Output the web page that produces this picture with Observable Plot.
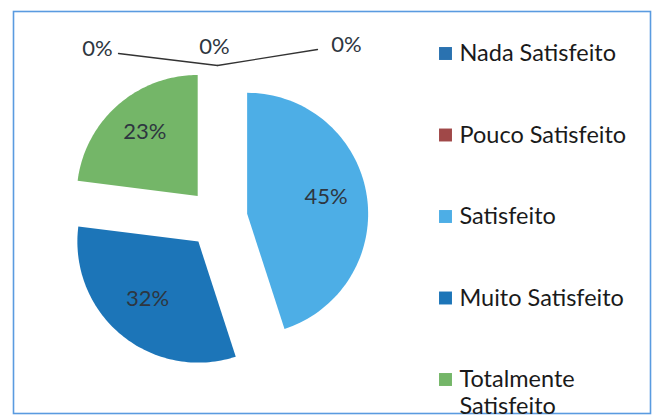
<!DOCTYPE html>
<html><head><meta charset="utf-8">
<script src="https://cdn.jsdelivr.net/npm/d3@7"></script>
<script src="https://cdn.jsdelivr.net/npm/@observablehq/plot@0.6"></script>
<style>body{margin:0;background:#fff;} #chart{width:653px;height:420px;}</style>
</head><body><div id="chart"></div>
<script>
// ---- data ----
const categories = ["Nada Satisfeito", "Pouco Satisfeito", "Satisfeito", "Muito Satisfeito", "Totalmente Satisfeito", ""];
const percents = [0, 0, 45, 32, 23, 0];
const colors = ["#2a72b0", "#a04848", "#4daee6", "#1c75b8", "#74b668", "#ffffff"];
const legendLabels = [["Nada Satisfeito"], ["Pouco Satisfeito"], ["Satisfeito"], ["Muito Satisfeito"], ["Totalmente", "Satisfeito"]];

// ---- layout ----
const W = 653, H = 420;
const CX = 217, CY = 218, R = 121, EXPLODE = 30, LABEL_R = 0.66;
const zeroLabelPos = [[97, 48], [214, 46], [346, 44]];
const zeroLeaderStart = [[118, 53], null, [317, 49]];
const LEG_X = 445, LEG_TX = 459, LEG_Y0 = 53, LEG_STEP = 81.5, LINE_H = 27;

const total = d3.sum(percents);
let acc = 0;
const polys = [], labels = [], leaders = [];
let zi = 0;
percents.forEach((v, i) => {
  const a0 = acc / total * 2 * Math.PI; acc += v; const a1 = acc / total * 2 * Math.PI;
  const m = (a0 + a1) / 2;
  const ox = CX + EXPLODE * Math.sin(m), oy = CY - EXPLODE * Math.cos(m);
  if (v > 0) {
    polys.push({cat: categories[i], x: ox, y: oy});
    const n = 80;
    for (let k = 0; k <= n; k++) {
      const a = a0 + (a1 - a0) * k / n;
      polys.push({cat: categories[i], x: ox + R * Math.sin(a), y: oy - R * Math.cos(a)});
    }
    labels.push({t: v + "%", x: ox + LABEL_R * R * Math.sin(m), y: oy - LABEL_R * R * Math.cos(m) - 4});
  } else {
    const p = zeroLabelPos[zi];
    labels.push({t: v + "%", x: p[0], y: p[1]});
    const s = zeroLeaderStart[zi];
    if (s) {
      leaders.push({id: zi, x: s[0], y: s[1]});
      leaders.push({id: zi, x: ox + (R + 2) * Math.sin(m), y: oy - (R + 2) * Math.cos(m)});
    }
    zi++;
  }
});

const legendSquares = legendLabels.map((l, i) => ({cat: categories[i], y: LEG_Y0 + i * LEG_STEP}));
const legendTexts = legendLabels.flatMap((lines, i) => lines.map((t, j) => ({t, y: LEG_Y0 + i * LEG_STEP + j * LINE_H})));

const chart = Plot.plot({
  width: W, height: H, margin: 0,
  x: {domain: [0, W], range: [0, W], axis: null},
  y: {domain: [0, H], range: [0, H], axis: null},
  color: {domain: categories, range: colors},
  style: {fontFamily: "Lato", background: "white"},
  marks: [
    Plot.frame({stroke: "#5a9be0", strokeWidth: 1.6, insetLeft: 13, insetTop: 11, insetRight: 3, insetBottom: 7}),
    Plot.line(polys, {x: "x", y: "y", z: "cat", fill: "cat", stroke: null, curve: "linear-closed"}),
    Plot.line(leaders, {x: "x", y: "y", z: "id", stroke: "#333", strokeWidth: 1.3}),
    Plot.text(labels, {x: "x", y: "y", text: "t", fontSize: 22, fill: "#2e3640"}),
    Plot.dot(legendSquares, {x: () => LEG_X, y: "y", symbol: "square", r: 7.3, fill: "cat", stroke: null}),
    Plot.text(legendTexts, {x: () => LEG_TX, y: "y", text: "t", textAnchor: "start", fontSize: 23.5, fill: "#1a1a1a"})
  ]
});
document.getElementById("chart").append(chart);
</script>
</body></html>
